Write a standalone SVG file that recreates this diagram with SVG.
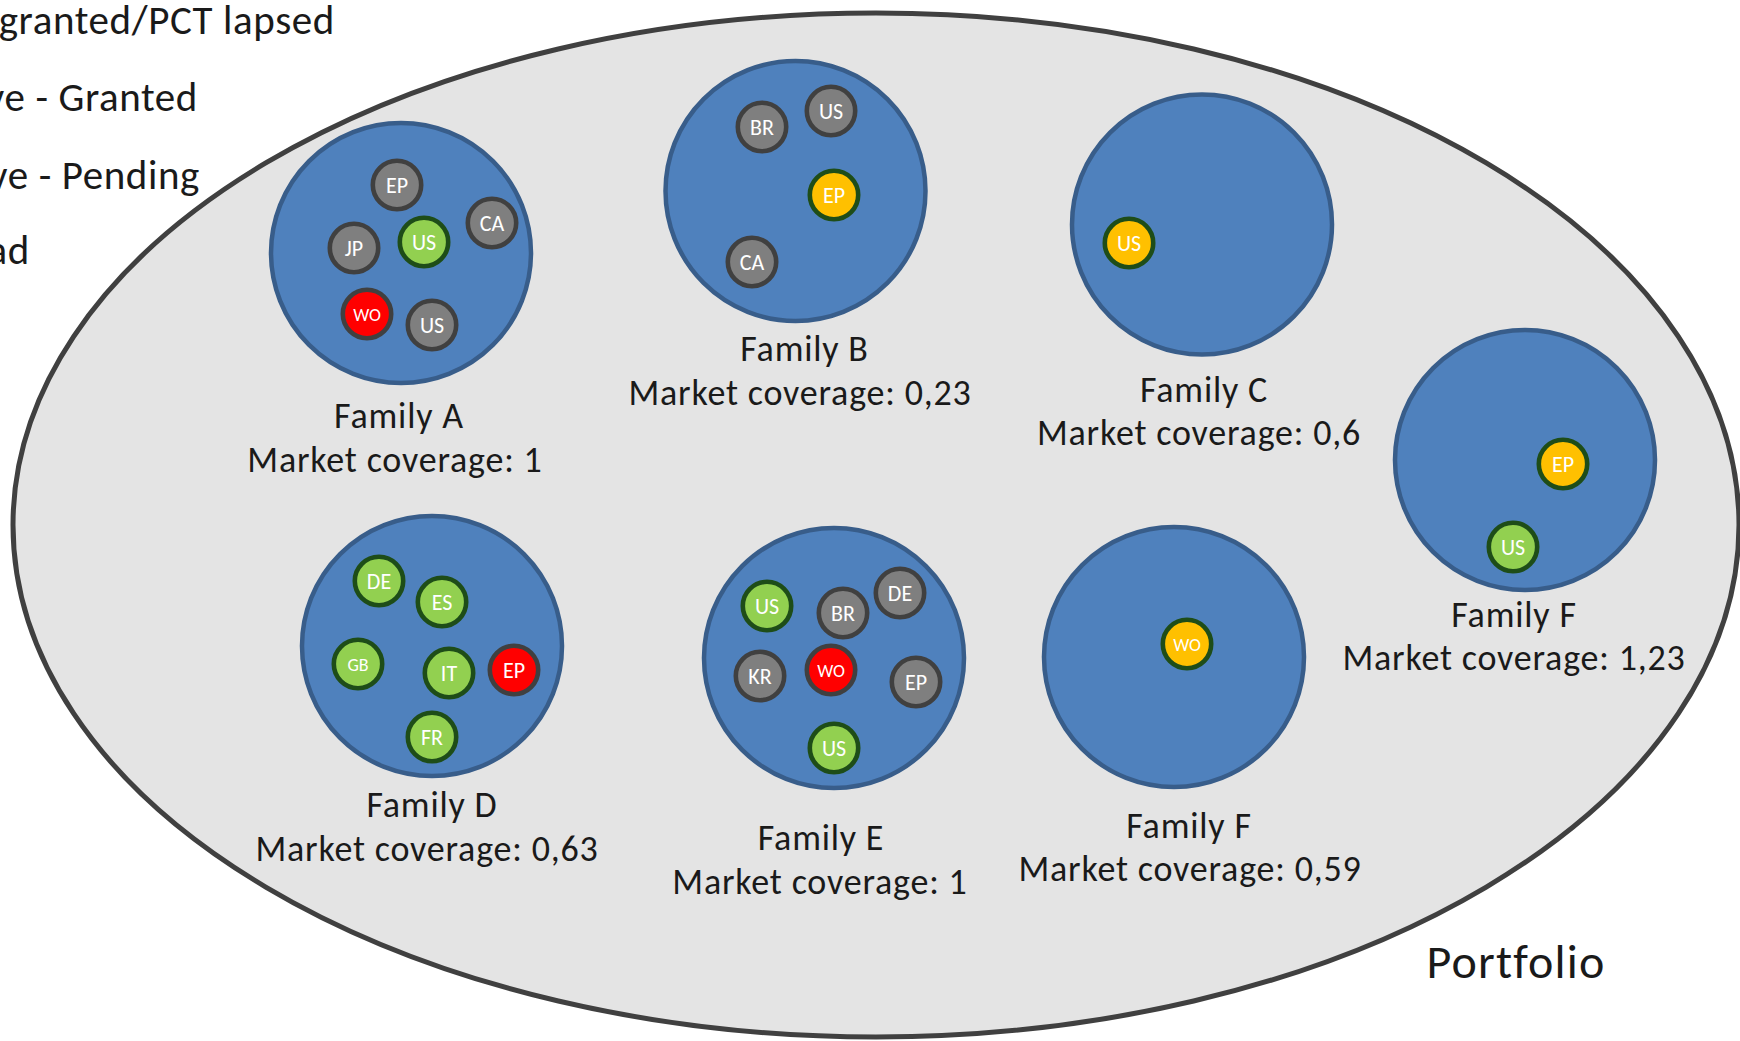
<svg xmlns="http://www.w3.org/2000/svg" width="1740" height="1041" viewBox="0 0 1740 1041">
  <style>
    text { font-family: Calibri, Carlito, Lato, "Liberation Sans", sans-serif; }
    .portfolio { fill: #e4e4e4; stroke: #404040; stroke-width: 5; }
    .family { fill: #4f81bd; stroke: #385d8a; stroke-width: 4.5; }
    .b { stroke-width: 4.6; }
    .gray { fill: #7f7f7f; stroke: #404040; }
    .green { fill: #92d050; stroke: #1e4d18; }
    .yellow { fill: #ffc000; stroke: #1e4d18; }
    .red { fill: #ff0000; stroke: #404040; }
    .code { fill: #ffffff; font-size: 22px; text-anchor: middle; }
    .small { font-size: 18px; }
    .label { fill: #1a1a1a; font-size: 36px; letter-spacing: 0.8px; text-anchor: middle; }
    .legend { fill: #1a1a1a; font-size: 41px; letter-spacing: 0.6px; text-anchor: end; }
    .title { fill: #1a1a1a; font-size: 48px; letter-spacing: 1.2px; text-anchor: middle; }
  </style>

  <!-- status legend, running off the left edge -->
  <g id="legend">
    <text class="legend" x="335" y="34">granted/PCT lapsed</text>
    <text class="legend" x="198" y="111">ve - Granted</text>
    <text class="legend" x="200" y="189">ve - Pending</text>
    <text class="legend" x="30" y="264">ad</text>
  </g>

  <!-- portfolio boundary -->
  <g id="portfolio">
    <ellipse class="portfolio" cx="876" cy="525" rx="863" ry="512"/>
    <text class="title" x="1516" y="978">Portfolio</text>
  </g>

  <!-- Family A -->
  <g id="family-a">
    <circle class="family" cx="401" cy="253" r="130"/>
    <circle class="b gray" cx="397" cy="185" r="24.2"/><text class="code" x="397" y="193">EP</text>
    <circle class="b gray" cx="492" cy="223" r="24.2"/><text class="code" x="492" y="231">CA</text>
    <circle class="b gray" cx="354" cy="248" r="24.2"/><text class="code" x="354" y="256">JP</text>
    <circle class="b green" cx="424" cy="242" r="24.2"/><text class="code" x="424" y="250">US</text>
    <circle class="b red" cx="367" cy="314" r="24.2"/><text class="code small" x="367" y="320.5">WO</text>
    <circle class="b gray" cx="432" cy="325" r="24.2"/><text class="code" x="432" y="333">US</text>
    <text class="label" x="399" y="428">Family A</text>
    <text class="label" x="395" y="472">Market coverage: 1</text>
  </g>

  <!-- Family B -->
  <g id="family-b">
    <circle class="family" cx="795.5" cy="191" r="130"/>
    <circle class="b gray" cx="762" cy="127" r="24.2"/><text class="code" x="762" y="135">BR</text>
    <circle class="b gray" cx="831" cy="111" r="24.2"/><text class="code" x="831" y="119">US</text>
    <circle class="b yellow" cx="834" cy="195" r="24.2"/><text class="code" x="834" y="203">EP</text>
    <circle class="b gray" cx="752" cy="262" r="24.2"/><text class="code" x="752" y="270">CA</text>
    <text class="label" x="804.5" y="361">Family B</text>
    <text class="label" x="800" y="404.5">Market coverage: 0,23</text>
  </g>

  <!-- Family C -->
  <g id="family-c">
    <circle class="family" cx="1202" cy="224.5" r="130"/>
    <circle class="b yellow" cx="1129" cy="243" r="24.2"/><text class="code" x="1129" y="251">US</text>
    <text class="label" x="1204" y="402">Family C</text>
    <text class="label" x="1199" y="445">Market coverage: 0,6</text>
  </g>

  <!-- Family F (right) -->
  <g id="family-f-right">
    <circle class="family" cx="1525" cy="460" r="130"/>
    <circle class="b yellow" cx="1563" cy="464" r="24.2"/><text class="code" x="1563" y="472">EP</text>
    <circle class="b green" cx="1513" cy="547" r="24.2"/><text class="code" x="1513" y="555">US</text>
    <text class="label" x="1514" y="627">Family F</text>
    <text class="label" x="1514" y="670">Market coverage: 1,23</text>
  </g>

  <!-- Family D -->
  <g id="family-d">
    <circle class="family" cx="432" cy="646" r="130"/>
    <circle class="b green" cx="379" cy="581" r="24.2"/><text class="code" x="379" y="589">DE</text>
    <circle class="b green" cx="442" cy="602" r="24.2"/><text class="code" x="442" y="610">ES</text>
    <circle class="b green" cx="358" cy="664" r="24.2"/><text class="code small" x="358" y="670.5">GB</text>
    <circle class="b green" cx="449" cy="673" r="24.2"/><text class="code" x="449" y="681">IT</text>
    <circle class="b red" cx="514" cy="670" r="24.2"/><text class="code" x="514" y="678">EP</text>
    <circle class="b green" cx="432" cy="737" r="24.2"/><text class="code" x="432" y="745">FR</text>
    <text class="label" x="432" y="817">Family D</text>
    <text class="label" x="427" y="861">Market coverage: 0,63</text>
  </g>

  <!-- Family E -->
  <g id="family-e">
    <circle class="family" cx="834" cy="658" r="130"/>
    <circle class="b green" cx="767" cy="606" r="24.2"/><text class="code" x="767" y="614">US</text>
    <circle class="b gray" cx="843" cy="613" r="24.2"/><text class="code" x="843" y="621">BR</text>
    <circle class="b gray" cx="900" cy="593" r="24.2"/><text class="code" x="900" y="601">DE</text>
    <circle class="b gray" cx="760" cy="676" r="24.2"/><text class="code" x="760" y="684">KR</text>
    <circle class="b red" cx="831" cy="670" r="24.2"/><text class="code small" x="831" y="676.5">WO</text>
    <circle class="b gray" cx="916" cy="682" r="24.2"/><text class="code" x="916" y="690">EP</text>
    <circle class="b green" cx="834" cy="748" r="24.2"/><text class="code" x="834" y="756">US</text>
    <text class="label" x="821" y="850">Family E</text>
    <text class="label" x="820" y="894">Market coverage: 1</text>
  </g>

  <!-- Family F (bottom) -->
  <g id="family-f-bottom">
    <circle class="family" cx="1174" cy="657" r="130"/>
    <circle class="b yellow" cx="1187" cy="644" r="24.2"/><text class="code small" x="1187" y="650.5">WO</text>
    <text class="label" x="1189" y="838">Family F</text>
    <text class="label" x="1190" y="881">Market coverage: 0,59</text>
  </g>
</svg>
